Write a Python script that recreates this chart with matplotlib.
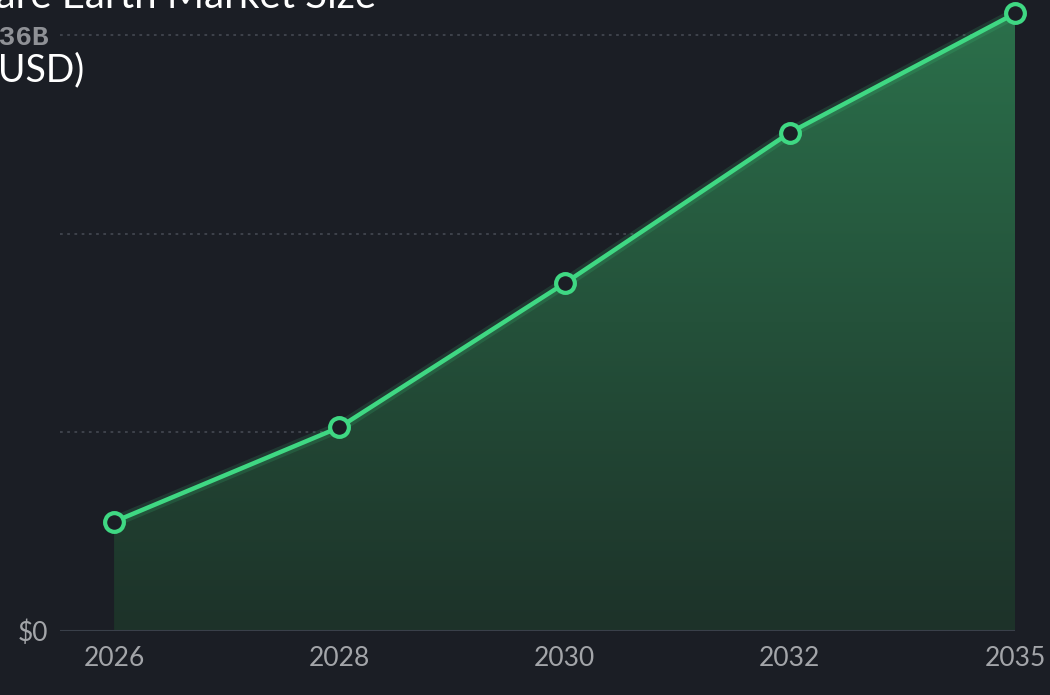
import matplotlib.pyplot as plt
import numpy as np
from matplotlib.colors import LinearSegmentedColormap

years = ['2026', '2028', '2030', '2032', '2035']
market_size = [6.6, 12.3, 21.0, 30.1, 37.3]   # billions USD
y_ticks = [0, 12, 24, 36]
y_tick_labels = ['$0', '', '', '$36B']

bg = '#1b1e25'
green = '#3fd883'

fig = plt.figure(figsize=(10.5, 6.95), dpi=100)
fig.patch.set_facecolor(bg)
ax = fig.add_axes([60/1050, 64/695, 955/1050, 621/695])
ax.set_facecolor(bg)

x = np.arange(len(years))
ax.set_xlim(-0.24, 4.0)
ax.set_ylim(0, 37.51)

# gradient fill under the line
cmap = LinearSegmentedColormap.from_list('g', ['#1d3229', '#2b704b'])
grad = np.linspace(0, 1, 256).reshape(-1, 1)
img = ax.imshow(grad, extent=[x[0], x[-1], 0, max(market_size)], origin='lower',
                aspect='auto', cmap=cmap, zorder=1)
poly = ax.fill_between(x, market_size, 0, color='none', zorder=1)
img.set_clip_path(poly.get_paths()[0], transform=ax.transData)

# grid lines
for t in y_ticks[1:]:
    ax.axhline(t, color='#41454e', lw=1.3, ls=(0, (1.5, 2.5)), zorder=0.5)
ax.axhline(0, color='#3a404a', lw=1.5, zorder=2)

# glow + line
ax.plot(x, market_size, color=green, lw=8, alpha=0.15, zorder=3, solid_capstyle='round')
ax.plot(x, market_size, color=green, lw=3.2, zorder=4, marker='o', ms=13.5,
        mfc=bg, mec=green, mew=3, clip_on=False)

for s in ax.spines.values():
    s.set_visible(False)

ax.set_xticks(x)
ax.set_xticklabels(years, fontsize=19, color='#a3a5a9', family='Lato')
ax.tick_params(axis='x', length=0, pad=11)
ax.set_yticks(y_ticks)
ax.set_yticklabels(y_tick_labels, fontsize=19, color='#a3a5a9', family='Lato')
ax.tick_params(axis='y', length=0, pad=8.5)
for lbl in ax.get_yticklabels():
    lbl.set_va('center_baseline')
lbl = ax.get_yticklabels()[-1]
lbl.set_family('Liberation Mono')
lbl.set_fontweight('bold')
lbl.set_fontsize(20)
lbl.set_color('#8f9196')

fig.text(-0.034, 1 - 8/695, 'ware Earth Market Size', fontsize=29, color='white',
         family='Lato', va='baseline', ha='left')
fig.text(-0.011, 1 - 81/695, '(USD)', fontsize=27, color='white',
         family='Lato', va='baseline', ha='left')

fig.savefig('out.png', dpi=100, facecolor=bg)
